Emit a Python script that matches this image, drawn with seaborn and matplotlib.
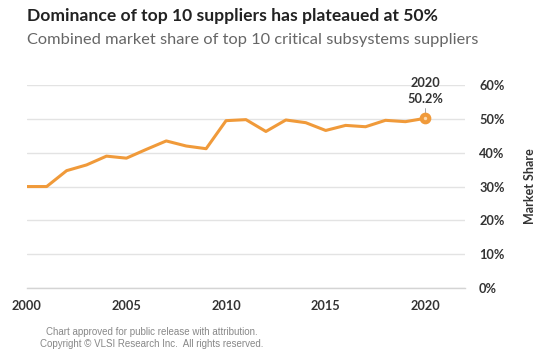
import matplotlib
matplotlib.use("Agg")
import matplotlib.pyplot as plt
import seaborn as sns
import pandas as pd
from matplotlib.ticker import PercentFormatter

sns.set_style("white")
plt.rcParams['font.family'] = ['Lato', 'DejaVu Sans']

# Combined market share of top 10 suppliers
years = list(range(2000, 2021))
share = [30.0, 30.0, 34.7, 36.4, 39.0, 38.4, 41.0, 43.5, 42.0, 41.2,
         49.5, 49.8, 46.3, 49.7, 48.9, 46.6, 48.1, 47.7, 49.6, 49.2, 50.2]
xticks = [2000, 2005, 2010, 2015, 2020]
yticks = [0, 10, 20, 30, 40, 50, 60]

df = pd.DataFrame({"year": years, "share": share})
orange = "#F09A3A"
dark = "#333333"

fig = plt.figure(figsize=(5.46, 3.64), dpi=100)
ax = fig.add_axes([0.049, 0.209, 0.803, 0.557])

sns.lineplot(data=df, x="year", y="share", color=orange, linewidth=2.2, ax=ax)

# highlight last point
last = df.iloc[-1]
ax.scatter([last["year"]], [last["share"]], s=55, color=orange, zorder=5,
           edgecolor=orange, linewidth=1)
ax.scatter([last["year"]], [last["share"]], s=6, color="#FCD9AE", zorder=6, linewidth=0)
ax.plot([last["year"], last["year"]], [last["share"] + 1.2, last["share"] + 3.0],
        color="#999999", linewidth=0.6, zorder=4)
ax.text(last["year"], last["share"] + 4.0, f"{int(last['year'])}\n{last['share']:.1f}%",
        ha="center", va="bottom", fontsize=9.2, fontweight="bold", color=dark,
        linespacing=1.35)

ax.set_xlim(2000, 2022)
ax.set_ylim(0, 60)
ax.set_xticks(xticks)
ax.set_yticks(yticks)
ax.yaxis.set_major_formatter(PercentFormatter(decimals=0))
ax.yaxis.tick_right()
ax.yaxis.set_label_position("right")
ax.grid(axis="y", color="#E3E3E3", linewidth=1)
ax.set_axisbelow(True)
for s in ["top", "left", "right"]:
    ax.spines[s].set_visible(False)
ax.spines["bottom"].set_color("#D4D4D4")
ax.spines["bottom"].set_linewidth(1)
ax.tick_params(axis="x", length=4, color="#D4D4D4", width=1, labelsize=9.2,
               labelcolor=dark, pad=5)
ax.tick_params(axis="y", length=0, labelsize=9.2, labelcolor=dark, pad=10)
for lbl in ax.get_xticklabels() + ax.get_yticklabels():
    lbl.set_fontweight("bold")
ax.set_xlabel("")
ax.set_ylabel("Market Share", fontsize=9, fontweight="bold", color=dark, labelpad=14)

fig.text(0.049, 0.957, "Dominance of top 10 suppliers has plateaued at 50%",
         fontsize=12.6, fontweight="bold", color="#222222", va="center")
fig.text(0.049, 0.890, "Combined market share of top 10 critical subsystems suppliers",
         fontsize=11.8, color="#666666", va="center")
fig.text(0.278, 0.072, "Chart approved for public release with attribution.\n"
         "Copyright \u00a9 VLSI Research Inc.  All rights reserved.",
         fontsize=7, color="#888888", ha="center", va="center",
         family="Liberation Sans", linespacing=1.25)

fig.savefig("out.png", dpi=100)
